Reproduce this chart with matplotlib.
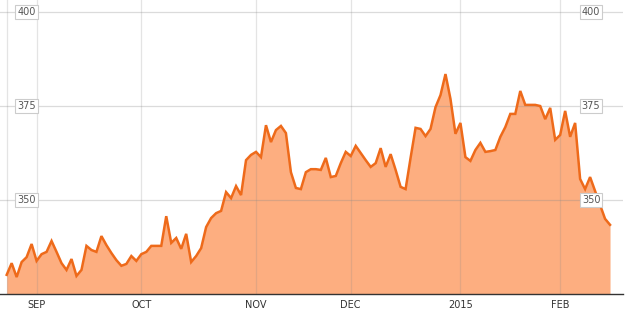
import numpy as np
import matplotlib
matplotlib.use("Agg")
import matplotlib.pyplot as plt

# daily closes, one per trading day (Aug 22 2014 .. mid Feb 2015)
prices = [
    330.1, 333.2, 329.5, 333.5, 334.8, 338.3, 333.8, 335.6, 336.2, 339.1,
    336.2, 333.2, 331.4, 334.3, 329.8, 331.4, 337.8, 336.7, 336.2, 340.4,
    338.0, 335.9, 334.0, 332.5, 333.0, 335.1, 333.8, 335.6, 336.2, 337.8,
    337.8, 337.8, 345.7, 338.6, 339.9, 337.0, 341.0, 333.5, 335.1, 337.2,
    342.8, 345.2, 346.5, 347.1, 352.1, 350.5, 353.7, 351.3, 360.6, 362.0,
    362.8, 361.4, 369.9, 365.4, 368.6, 369.7, 367.8, 357.4, 353.2, 352.9,
    357.4, 358.2, 358.2, 358.0, 361.2, 356.1, 356.4, 359.8, 362.8, 361.7,
    364.4, 362.5, 360.6, 358.8, 359.8, 363.8, 358.8, 362.2, 358.0, 353.5,
    352.9, 361.2, 369.2, 368.9, 367.0, 368.9, 374.7, 377.9, 383.5, 376.9,
    367.6, 370.5, 361.4, 360.4, 363.3, 365.2, 362.8, 363.0, 363.3, 366.8,
    369.4, 372.9, 372.9, 379.0, 375.3, 375.3, 375.3, 375.0, 371.5, 374.5,
    366.0, 367.3, 373.7, 366.8, 370.5, 355.6, 352.9, 356.1, 352.4, 348.7,
    345.0, 343.4,
]

month_labels = ["SEP", "OCT", "NOV", "DEC", "2015", "FEB"]
month_start_idx = [6, 27, 50, 69, 91, 111]  # first trading day of each month
y_ticks = [350, 375, 400]

line_color = "#EE6A1A"
fill_color = "#FDAE80"
grid_color = "#DADADA"

fig = plt.figure(figsize=(6.37, 3.16), dpi=100)
ax = fig.add_axes([0.0, 22 / 316, 623 / 637, 294 / 316])

x = np.arange(len(prices))
ymin, ymax = 325, 403.2
ax.fill_between(x, prices, ymin, color=fill_color, lw=0, zorder=1)
ax.plot(x, prices, color=line_color, lw=1.8, zorder=3, solid_joinstyle="miter")

ax.set_xlim(-1.34, 123.6)
ax.set_ylim(ymin, ymax)

# grid lines
for yv in y_ticks:
    ax.axhline(yv, color="#888888", alpha=0.3, lw=0.9, zorder=2)
for xv in [0] + month_start_idx:
    ax.axvline(xv, color="#888888", alpha=0.22, lw=0.9, zorder=2)

# boxed y labels on both sides
box = dict(boxstyle="square,pad=0.2", fc="white", ec="#CCCCCC", lw=0.8)
for yv in y_ticks:
    ax.text(4.0, yv, str(yv), fontsize=7, color="#555555", ha="center",
            va="center", bbox=box, zorder=5)
    ax.text(117.2, yv, str(yv), fontsize=7, color="#555555", ha="center",
            va="center", bbox=box, zorder=5)

ax.set_xticks(month_start_idx)
ax.set_xticklabels(month_labels, fontsize=7, color="#333333")
ax.tick_params(axis="x", length=0, pad=4)
ax.set_yticks([])

for s in ["top", "right", "left"]:
    ax.spines[s].set_visible(False)
ax.spines["bottom"].set_color("#333333")
ax.spines["bottom"].set_linewidth(1.0)
ax.spines["bottom"].set_zorder(6)

fig.savefig("out.png", dpi=100)
